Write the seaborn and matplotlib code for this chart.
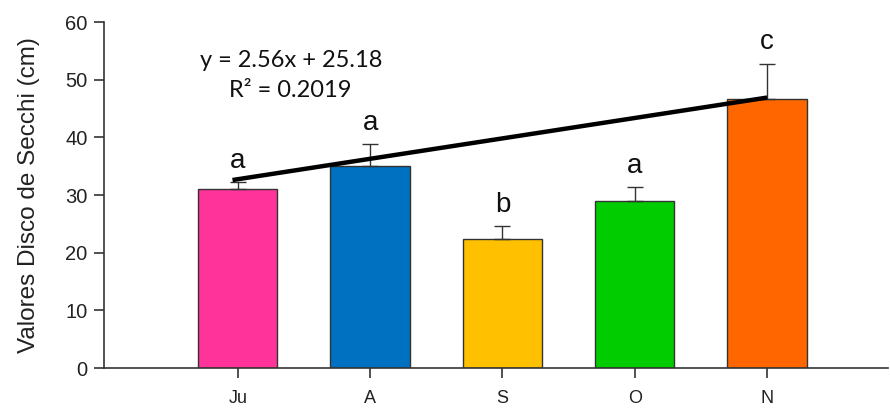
import pandas as pd
import matplotlib
matplotlib.use("Agg")
import matplotlib.pyplot as plt
import seaborn as sns

# values
months = ["Ju", "A", "S", "O", "N"]
secchi_mean = [31.0, 35.0, 22.4, 29.0, 46.7]
secchi_err = [1.3, 3.8, 2.3, 2.4, 6.1]
letters = ["a", "a", "b", "a", "c"]
bar_colors = ["#FF3399", "#0070C0", "#FFC000", "#00CC00", "#FF6600"]
trend_y = [32.6, 46.9]  # fitted line at first and last month

df = pd.DataFrame({"Mes": months, "Secchi": secchi_mean})

sns.set_style("white", {"xtick.bottom": True, "ytick.left": True})
plt.rcParams["font.family"] = ["Liberation Sans", "DejaVu Sans"]
arial = ["Liberation Sans", "DejaVu Sans"]
calibri = ["Lato", "DejaVu Sans"]

fig = plt.figure(figsize=(8.9, 4.08), dpi=100)
ax = fig.add_axes([0.117, 0.098, 0.881, 0.848])

sns.barplot(data=df, x="Mes", y="Secchi", hue="Mes", palette=bar_colors,
            order=months, width=0.6, saturation=1, edgecolor="#333333",
            linewidth=1, legend=False, ax=ax)

# upper error bars only
ax.errorbar(range(len(months)), secchi_mean,
            yerr=[[0] * len(months), secchi_err],
            fmt="none", ecolor="#333333", elinewidth=1, capsize=6, capthick=1)

# significance letters
for i, (m, e, l) in enumerate(zip(secchi_mean, secchi_err, letters)):
    ax.text(i, m + e + 1.4, l, ha="center", va="bottom", fontsize=20,
            family=arial, color="#111111")

# trend line
ax.plot([-0.04, len(months) - 1], trend_y, color="black", linewidth=3.2,
        solid_capstyle="butt")

ax.text(0.4, 53.4, "y = 2.56x + 25.18", ha="center", va="center",
        fontsize=17, family=calibri, color="#111111")
ax.text(0.4, 48.2, "R² = 0.2019", ha="center", va="center",
        fontsize=17, family=calibri, color="#111111")

ax.set_xlim(-1.01, 4.915)
ax.set_ylim(0, 60)
ax.set_yticks(range(0, 61, 10))
ax.set_xlabel("")
ax.set_ylabel("Valores Disco de Secchi (cm)", fontsize=17.5, family=arial,
              color="#222222", labelpad=18)

sns.despine(ax=ax)
for s in ["left", "bottom"]:
    ax.spines[s].set_color("#333333")
    ax.spines[s].set_linewidth(1.2)
ax.tick_params(axis="both", which="major", direction="out", length=7, width=1.2,
               color="#333333", labelcolor="#222222", bottom=True, left=True)
ax.tick_params(axis="y", labelsize=14.5, pad=5)
ax.tick_params(axis="x", labelsize=13, pad=9)
for t in ax.xaxis.get_major_ticks():
    t.tick1line.set_visible(True)
    t.tick1line.set_color("#333333")
for lab in ax.get_xticklabels() + ax.get_yticklabels():
    lab.set_family(arial)

plt.savefig("out.png", dpi=100)
